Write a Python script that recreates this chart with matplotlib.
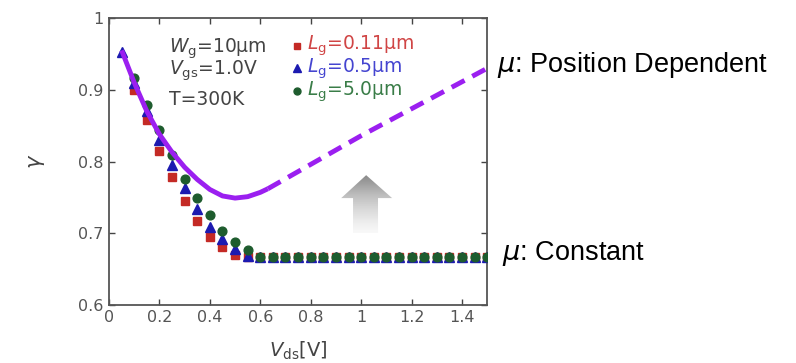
import numpy as np
import matplotlib.pyplot as plt
from matplotlib.patches import Polygon

plt.rcParams['font.family'] = ['DejaVu Sans']
plt.rcParams['mathtext.fontset'] = 'dejavusans'

# drain voltage grid of the measured points
vds = [0.1, 0.15, 0.2, 0.25, 0.3, 0.35, 0.4, 0.45, 0.5, 0.55,
       0.6, 0.65, 0.7, 0.75, 0.8, 0.85, 0.9, 0.95, 1.0, 1.05,
       1.1, 1.15, 1.2, 1.25, 1.3, 1.35, 1.4, 1.45, 1.5]
vds_blue = [0.05] + vds

gamma_011 = [0.900, 0.858, 0.815, 0.778, 0.745, 0.717, 0.695, 0.681, 0.670, 0.667,
             0.667, 0.667, 0.667, 0.667, 0.667, 0.667, 0.667, 0.667, 0.667, 0.667,
             0.667, 0.667, 0.667, 0.667, 0.667, 0.667, 0.667, 0.667, 0.667]
gamma_05 = [0.953, 0.910, 0.870, 0.830, 0.795, 0.763, 0.734, 0.709, 0.692, 0.678, 0.668,
            0.667, 0.667, 0.667, 0.667, 0.667, 0.667, 0.667, 0.667, 0.667, 0.667,
            0.667, 0.667, 0.667, 0.667, 0.667, 0.667, 0.667, 0.667, 0.667]
gamma_50 = [0.917, 0.879, 0.844, 0.809, 0.776, 0.749, 0.725, 0.703, 0.688, 0.676,
            0.667, 0.667, 0.667, 0.667, 0.667, 0.667, 0.667, 0.667, 0.667, 0.667,
            0.667, 0.667, 0.667, 0.667, 0.667, 0.667, 0.667, 0.667, 0.667]

# position dependent mobility model
model_x = [0.05, 0.1, 0.15, 0.2, 0.25, 0.3, 0.35, 0.4, 0.45, 0.5, 0.55, 0.6, 0.63]
model_y = [0.955, 0.910, 0.870, 0.838, 0.813, 0.792, 0.775, 0.761, 0.752, 0.749, 0.751, 0.757, 0.762]
ext_x = [0.63, 1.0, 1.5]
ext_y = [0.762, 0.836, 0.930]

xticks = [0, 0.2, 0.4, 0.6, 0.8, 1.0, 1.2, 1.4]
xticklabels = ['0', '0.2', '0.4', '0.6', '0.8', '1', '1.2', '1.4']
yticks = [0.6, 0.7, 0.8, 0.9, 1.0]
yticklabels = ['0.6', '0.7', '0.8', '0.9', '1']

red = '#c42a25'
blue = '#1c1ab0'
green = '#1e5c2e'
purple = '#9b1ff0'
txt_gray = '#444444'

fig = plt.figure(figsize=(7.96, 3.63), dpi=100)
ax = fig.add_axes([0.137, 0.160, 0.475, 0.790])

ax.plot(vds, gamma_011, 's', color=red, ms=6, mec=red, zorder=3)
ax.plot(vds_blue, gamma_05, '^', color=blue, ms=6.5, mec=blue, zorder=4)
ax.plot(vds, gamma_50, 'o', color=green, ms=6.3, mec=green, zorder=5)

ax.plot(model_x, model_y, '-', color=purple, lw=3.5, zorder=6, solid_capstyle='butt')
ax.plot(ext_x, ext_y, '--', color=purple, lw=3.5, dashes=(3, 1.8), zorder=6)

# gray arrow with a vertical fade
arrow = Polygon([(0.968, 0.700), (0.968, 0.749), (0.921, 0.749), (1.020, 0.781),
                 (1.123, 0.749), (1.067, 0.749), (1.067, 0.700)],
                closed=True, facecolor='none', edgecolor='none')
ax.add_patch(arrow)
grad = np.linspace(1, 0, 100).reshape(-1, 1)
img = ax.imshow(grad, extent=[0.92, 1.125, 0.700, 0.781], aspect='auto',
                cmap='Greys', vmin=-0.1, vmax=1.9, origin='upper', zorder=2)
img.set_clip_path(arrow)

ax.set_xlim(0, 1.5)
ax.set_ylim(0.6, 1.0)
ax.set_xticks(xticks)
ax.set_xticklabels(xticklabels)
ax.set_yticks(yticks)
ax.set_yticklabels(yticklabels)
ax.tick_params(direction='in', top=True, right=True, length=4, width=1,
               labelsize=11.5, colors='#444444', labelcolor='#555555', pad=4)
for s in ax.spines.values():
    s.set_color('#555555')
    s.set_linewidth(1.3)

ax.set_xlabel(r'$V_{\rm ds}$[V]', fontsize=14, color=txt_gray, labelpad=10)
ax.set_ylabel(r'$\gamma$', fontsize=15, color=txt_gray, labelpad=22)

# conditions
ax.text(0.236, 0.958, r'$W_{\rm g}$=10μm', fontsize=13.5, color=txt_gray, va='center')
ax.text(0.236, 0.927, r'$V_{\rm gs}$=1.0V', fontsize=13.5, color=txt_gray, va='center')
ax.text(0.236, 0.887, 'T=300K', fontsize=13.5, color=txt_gray, va='center')

# legend
leg_x = [0.746, 0.746, 0.746]
leg_y = [0.961, 0.930, 0.898]
ax.plot(leg_x[0], leg_y[0], 's', color=red, ms=5)
ax.plot(leg_x[1], leg_y[1], '^', color=blue, ms=5.5)
ax.plot(leg_x[2], leg_y[2], 'o', color=green, ms=5)
ax.text(0.786, leg_y[0], r'$L_{\rm g}$=0.11μm', fontsize=13.5, color='#d04545', va='center')
ax.text(0.786, leg_y[1], r'$L_{\rm g}$=0.5μm', fontsize=13.5, color='#4545d0', va='center')
ax.text(0.786, leg_y[2], r'$L_{\rm g}$=5.0μm', fontsize=13.5, color='#3a7d48', va='center')

ax.text(1.54, 0.934, r'$\mu$: Position Dependent', fontsize=19.5, color='black',
        family='Liberation Sans', va='center', ha='left', clip_on=False)
ax.text(1.56, 0.672, r'$\mu$: Constant', fontsize=19.5, color='black',
        family='Liberation Sans', va='center', ha='left', clip_on=False)

fig.savefig('out.png', dpi=100)
